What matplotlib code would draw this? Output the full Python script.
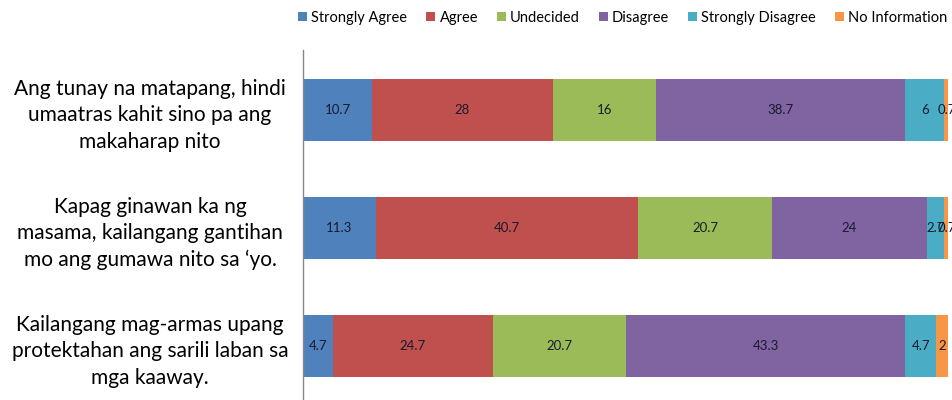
import matplotlib
matplotlib.use("Agg")
import matplotlib.pyplot as plt
import numpy as np

categories = [
    "Ang tunay na matapang, hindi\numaatras kahit sino pa ang\nmakaharap nito",
    "Kapag ginawan ka ng\nmasama, kailangang gantihan\nmo ang gumawa nito sa \u2018yo.",
    "Kailangang mag-armas upang\nprotektahan ang sarili laban sa\nmga kaaway.",
]
series_names = ["Strongly Agree", "Agree", "Undecided", "Disagree", "Strongly Disagree", "No Information"]
strongly_agree = [10.7, 11.3, 4.7]
agree = [28, 40.7, 24.7]
undecided = [16, 20.7, 20.7]
disagree = [38.7, 24, 43.3]
strongly_disagree = [6, 2.7, 4.7]
no_information = [0.7, 0.7, 2]
series_values = [strongly_agree, agree, undecided, disagree, strongly_disagree, no_information]
colors = ["#4F81BD", "#C0504D", "#9BBB59", "#8064A2", "#4BACC6", "#F79646"]

plt.rcParams['font.family'] = ['Lato', 'DejaVu Sans']

fig = plt.figure(figsize=(9.53, 4.0), dpi=100)
ax = fig.add_axes([303/953, 0.0, (948-303)/953, 350/400])

y = np.arange(len(categories))
left = np.zeros(len(categories))
handles = []
for name, vals, c in zip(series_names, series_values, colors):
    vals = np.array(vals, dtype=float)
    b = ax.barh(y, vals, left=left, height=0.52, color=c, label=name)
    handles.append(b)
    for yi, (l, v) in enumerate(zip(left, vals)):
        lab = f"{v:g}"
        ax.text(l + v / 2, yi, lab, ha='center', va='center', fontsize=9.5, color='#1a1a2e')
    left += vals

ax.set_xlim(0, 100)
ax.set_ylim(2 + 54/118, -60/118)
ax.set_yticks(y)
ax.set_yticklabels(categories, fontsize=15, ha='center', multialignment='center', linespacing=1.4)
ax.tick_params(axis='y', length=0, pad=153*72/100)
ax.set_xticks([])
for s in ['top', 'right', 'bottom']:
    ax.spines[s].set_visible(False)
ax.spines['left'].set_color('#888888')
ax.spines['left'].set_linewidth(1.0)

leg = fig.legend(handles=handles, labels=series_names, loc='center right', bbox_to_anchor=(1.008, 1 - 18/400),
                 ncol=6, frameon=False, fontsize=10.5, handlelength=0.6, handleheight=0.6,
                 handletextpad=0.3, columnspacing=1.3)

fig.savefig("out.png", dpi=100)
